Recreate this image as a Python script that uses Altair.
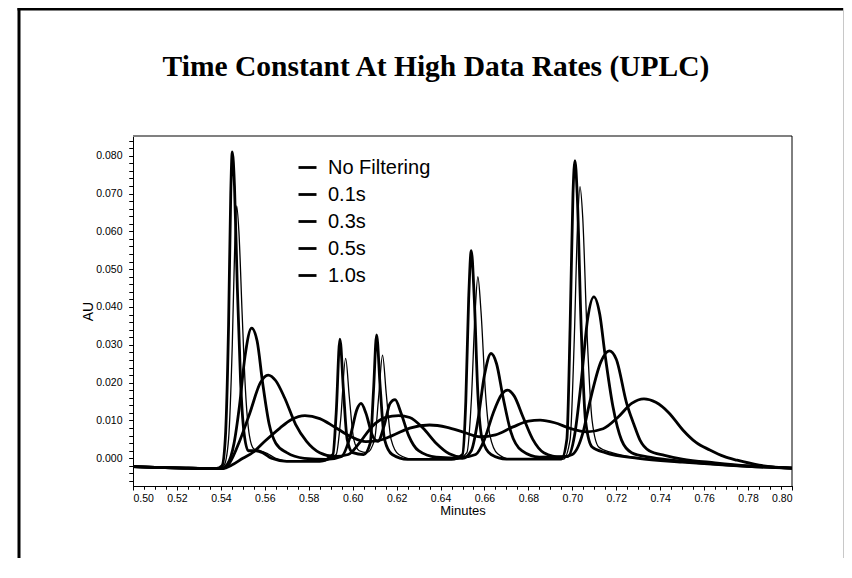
import altair as alt
import pandas as pd

TITLE = "Time Constant At High Data Rates (UPLC)"
X_TITLE = "Minutes"
Y_TITLE = "AU"
SERIES = ["No Filtering", "0.1s", "0.3s", "0.5s", "1.0s"]
THIN_SERIES = ["0.1s"]

X_LABEL_TICKS = [0.50, 0.52, 0.54, 0.56, 0.58, 0.60, 0.62, 0.64, 0.66, 0.68,
                 0.70, 0.72, 0.74, 0.76, 0.78, 0.80]
Y_LABEL_TICKS = [0.000, 0.010, 0.020, 0.030, 0.040, 0.050, 0.060, 0.070, 0.080]
X_MINOR_TICKS = [round(0.50 + 0.005 * i, 3) for i in range(61)]
Y_MINOR_TICKS = [round(-0.006 + 0.002 * i, 3) for i in range(46)]

nofilt_t = [0.500, 0.510, 0.525, 0.538, 0.5405, 0.5420, 0.5435, 0.5445, 0.5452, 0.5462,
            0.5475, 0.5490, 0.5505, 0.5525, 0.5560, 0.5590, 0.5630, 0.5700, 0.5850, 0.5910,
            0.5925, 0.5942, 0.5958, 0.5975, 0.6000, 0.6050, 0.6080, 0.6095, 0.6109, 0.6125,
            0.6145, 0.6180, 0.6250, 0.6450, 0.6500, 0.6515, 0.6528, 0.6540, 0.6553, 0.6570,
            0.6590, 0.6630, 0.6700, 0.6950, 0.6975, 0.6990, 0.7003, 0.7012, 0.7022, 0.7040,
            0.7060, 0.7090, 0.7150, 0.7300, 0.7500, 0.7700, 0.8000]
nofilt_v = [-0.0022, -0.0024, -0.0026, -0.0027, -0.0020, 0.0050, 0.0350, 0.0700, 0.0810, 0.0720,
            0.0450, 0.0200, 0.0070, 0.0020, 0.0020, 0.0015, 0.0000, -0.0008, -0.0008, 0.0010,
            0.0120, 0.0315, 0.0180, 0.0050, 0.0015, 0.0010, 0.0040, 0.0180, 0.0326, 0.0190,
            0.0050, 0.0010, -0.0003, -0.0003, 0.0010, 0.0150, 0.0420, 0.0549, 0.0430, 0.0170,
            0.0050, 0.0010, -0.0002, -0.0002, 0.0050, 0.0350, 0.0700, 0.0787, 0.0700, 0.0350,
            0.0100, 0.0030, 0.0015, 0.0000, -0.0010, -0.0018, -0.0026]

f01_t = [0.500, 0.510, 0.525, 0.539, 0.5415, 0.5435, 0.5452, 0.5464, 0.5472, 0.5482,
         0.5497, 0.5512, 0.5530, 0.5550, 0.5580, 0.5610, 0.5650, 0.5720, 0.5860, 0.5925,
         0.5945, 0.5968, 0.5985, 0.6005, 0.6030, 0.6065, 0.6100, 0.6118, 0.6136, 0.6153,
         0.6175, 0.6210, 0.6280, 0.6470, 0.6520, 0.6540, 0.6557, 0.6570, 0.6584, 0.6605,
         0.6625, 0.6660, 0.6720, 0.6960, 0.6990, 0.7008, 0.7024, 0.7035, 0.7047, 0.7067,
         0.7090, 0.7120, 0.7180, 0.7320, 0.7520, 0.7720, 0.8000]
f01_v = [-0.0022, -0.0024, -0.0026, -0.0027, -0.0018, 0.0050, 0.0300, 0.0580, 0.0667, 0.0600,
         0.0380, 0.0180, 0.0060, 0.0025, 0.0020, 0.0013, 0.0000, -0.0008, -0.0008, 0.0010,
         0.0100, 0.0264, 0.0160, 0.0050, 0.0020, 0.0015, 0.0050, 0.0160, 0.0273, 0.0170,
         0.0050, 0.0010, -0.0003, -0.0003, 0.0015, 0.0150, 0.0380, 0.0480, 0.0390, 0.0170,
         0.0060, 0.0012, -0.0002, -0.0002, 0.0050, 0.0300, 0.0620, 0.0718, 0.0640, 0.0330,
         0.0100, 0.0030, 0.0015, 0.0000, -0.0010, -0.0018, -0.0026]

f03_t = [0.500, 0.510, 0.525, 0.540, 0.543, 0.546, 0.5485, 0.551, 0.554, 0.5565,
         0.559, 0.562, 0.565, 0.570, 0.578, 0.588, 0.595, 0.599, 0.602, 0.6038,
         0.606, 0.609, 0.6115, 0.6145, 0.617, 0.6193, 0.622, 0.6255, 0.630, 0.638,
         0.650, 0.654, 0.657, 0.660, 0.663, 0.6655, 0.6685, 0.672, 0.677, 0.685,
         0.698, 0.701, 0.704, 0.707, 0.7098, 0.7125, 0.7148, 0.7185, 0.7224, 0.727,
         0.735, 0.745, 0.760, 0.780, 0.800]
f03_v = [-0.0022, -0.0024, -0.0026, -0.0027, -0.0015, 0.0040, 0.0140, 0.0270, 0.0344, 0.0310,
         0.0200, 0.0090, 0.0040, 0.0015, 0.0000, -0.0003, 0.0005, 0.0060, 0.0130, 0.0145,
         0.0120, 0.0060, 0.0045, 0.0090, 0.0145, 0.0155, 0.0120, 0.0060, 0.0020, 0.0003,
         0.0000, 0.0020, 0.0100, 0.0220, 0.0277, 0.0250, 0.0160, 0.0070, 0.0020, 0.0003,
         0.0005, 0.0060, 0.0200, 0.0370, 0.0427, 0.0380, 0.0278, 0.0136, 0.0048, 0.0015,
         0.0003, -0.0005, -0.0013, -0.0021, -0.0026]

f05_t = [0.500, 0.510, 0.525, 0.5405, 0.544, 0.5487, 0.5532, 0.558, 0.5615, 0.565,
         0.569, 0.574, 0.579, 0.585, 0.592, 0.598, 0.603, 0.609, 0.615, 0.621,
         0.626, 0.632, 0.638, 0.644, 0.650, 0.656, 0.660, 0.664, 0.668, 0.6705,
         0.6735, 0.6775, 0.682, 0.687, 0.695, 0.700, 0.7048, 0.708, 0.713, 0.7168,
         0.720, 0.7247, 0.728, 0.7308, 0.735, 0.742, 0.750, 0.765, 0.780, 0.800]
f05_v = [-0.0022, -0.0024, -0.0026, -0.0027, -0.0012, 0.0048, 0.0120, 0.0200, 0.0220, 0.0205,
         0.0160, 0.0090, 0.0045, 0.0015, 0.0005, 0.0010, 0.0040, 0.0085, 0.0108, 0.0113,
         0.0108, 0.0080, 0.0040, 0.0012, 0.0003, 0.0010, 0.0050, 0.0120, 0.0170, 0.0180,
         0.0165, 0.0110, 0.0050, 0.0015, 0.0003, 0.0010, 0.0067, 0.0150, 0.0255, 0.0284,
         0.0262, 0.0146, 0.0090, 0.0048, 0.0020, 0.0008, -0.0002, -0.0012, -0.0020, -0.0026]

f10_t = [0.500, 0.510, 0.525, 0.541, 0.545, 0.550, 0.5547, 0.560, 0.5669, 0.572,
         0.5783, 0.585, 0.592, 0.599, 0.606, 0.611, 0.618, 0.626, 0.635, 0.643,
         0.651, 0.658, 0.665, 0.673, 0.680, 0.6853, 0.692, 0.699, 0.7066, 0.714,
         0.721, 0.727, 0.7326, 0.738, 0.744, 0.7503, 0.7563, 0.7626, 0.769, 0.775,
         0.785, 0.800]
f10_v = [-0.0022, -0.0024, -0.0026, -0.0027, -0.0018, 0.0000, 0.0016, 0.0045, 0.0080, 0.0102,
         0.0113, 0.0105, 0.0082, 0.0058, 0.0044, 0.0046, 0.0060, 0.0080, 0.0088, 0.0082,
         0.0068, 0.0057, 0.0062, 0.0083, 0.0098, 0.0101, 0.0094, 0.0079, 0.0070, 0.0078,
         0.0110, 0.0145, 0.0157, 0.0148, 0.0120, 0.0075, 0.0042, 0.0022, 0.0005, -0.0005,
         -0.0018, -0.0026]

rows = []
for name, ts, vs in zip(SERIES, [nofilt_t, f01_t, f03_t, f05_t, f10_t],
                        [nofilt_v, f01_v, f03_v, f05_v, f10_v]):
    for t, v in zip(ts, vs):
        rows.append({"series": name, "t": t, "v": v, "thin": name in THIN_SERIES})
df = pd.DataFrame(rows)

W, H = 659, 350
FONT = "Liberation Sans"

xscale = alt.Scale(domain=[0.50, 0.80], nice=False, zero=False)
yscale = alt.Scale(domain=[-0.00732, 0.0852], nice=False, zero=False)

color_enc = alt.Color(
    "series:N", sort=SERIES,
    scale=alt.Scale(domain=SERIES, range=["#000000"] * 5),
    legend=alt.Legend(title=None, orient="none", legendX=164, legendY=21,
                      symbolType="stroke", symbolSize=324, symbolStrokeWidth=2.8,
                      symbolStrokeColor="black",
                      labelFontSize=20, labelFont=FONT, labelColor="black",
                      rowPadding=6, labelOffset=10, padding=0))

x_minor = alt.X("t:Q", scale=xscale,
                axis=alt.Axis(values=X_MINOR_TICKS, labels=False, title=None, tickSize=3,
                              orient="bottom"))
y_minor = alt.Y("v:Q", scale=yscale,
                axis=alt.Axis(values=Y_MINOR_TICKS, labels=False, title=None, tickSize=4,
                              orient="left"))

thick_lines = alt.Chart(df).transform_filter("!datum.thin").mark_line(
    interpolate="monotone", clip=True, strokeWidth=2.8
).encode(x=x_minor, y=y_minor, color=color_enc)

thin_lines = alt.Chart(df).transform_filter("datum.thin").mark_line(
    interpolate="monotone", clip=True, strokeWidth=1.3
).encode(x=x_minor, y=y_minor, color=color_enc)

label_axes = alt.Chart(df).mark_point(opacity=0).encode(
    x=alt.X("t:Q", scale=xscale,
            axis=alt.Axis(values=X_LABEL_TICKS, format=".2f", title=X_TITLE, tickSize=4,
                          labelPadding=3, labelFontSize=10.5, titleFontSize=13,
                          titlePadding=1, orient="bottom")),
    y=alt.Y("v:Q", scale=yscale,
            axis=alt.Axis(values=Y_LABEL_TICKS, format=".3f", title=Y_TITLE, tickSize=4,
                          labelPadding=7, labelFontSize=10.5, titleFontSize=14,
                          titlePadding=0, orient="left")),
)

one = alt.Data(values=[{"k": 1}])
frame_left = alt.Chart(one).mark_rule(color="black", strokeWidth=3).encode(
    x=alt.value(-114), y=alt.value(-130), y2=alt.value(430))
frame_top = alt.Chart(one).mark_rule(color="black", strokeWidth=3).encode(
    y=alt.value(-127), x=alt.value(-115.5), x2=alt.value(711))
frame_right = alt.Chart(one).mark_rule(color="#c8c8c8", strokeWidth=1).encode(
    x=alt.value(710.5), y=alt.value(-128), y2=alt.value(430))
plot_top = alt.Chart(one).mark_rule(color="#808080", strokeWidth=2).encode(
    y=alt.value(0), x=alt.value(0), x2=alt.value(W))
plot_right = alt.Chart(one).mark_rule(color="black", strokeWidth=1).encode(
    x=alt.value(W), y=alt.value(0), y2=alt.value(H))

title_layer = alt.Chart(alt.Data(values=[{"label": TITLE}])).mark_text(
    font="Liberation Serif", fontWeight="bold", fontSize=29.5, align="center",
    baseline="alphabetic", color="black"
).encode(text="label:N", x=alt.value(303), y=alt.value(-60))

chart = alt.layer(
    frame_left, frame_top, frame_right, plot_top, plot_right,
    thick_lines, thin_lines, label_axes, title_layer
).resolve_axis(x="independent", y="independent").properties(
    width=W, height=H,
    autosize=alt.AutoSizeParams(type="none"),
    padding={"left": 125, "top": 128, "right": 52, "bottom": 72},
).configure_view(stroke=None).configure_axis(
    grid=False, domainColor="black", tickColor="black", labelColor="black",
    titleColor="black", labelFont=FONT, titleFont=FONT, titleFontWeight="normal",
    domainWidth=1, tickWidth=1
)

chart.save("out.html", embed_options={"renderer": "svg", "actions": False})
